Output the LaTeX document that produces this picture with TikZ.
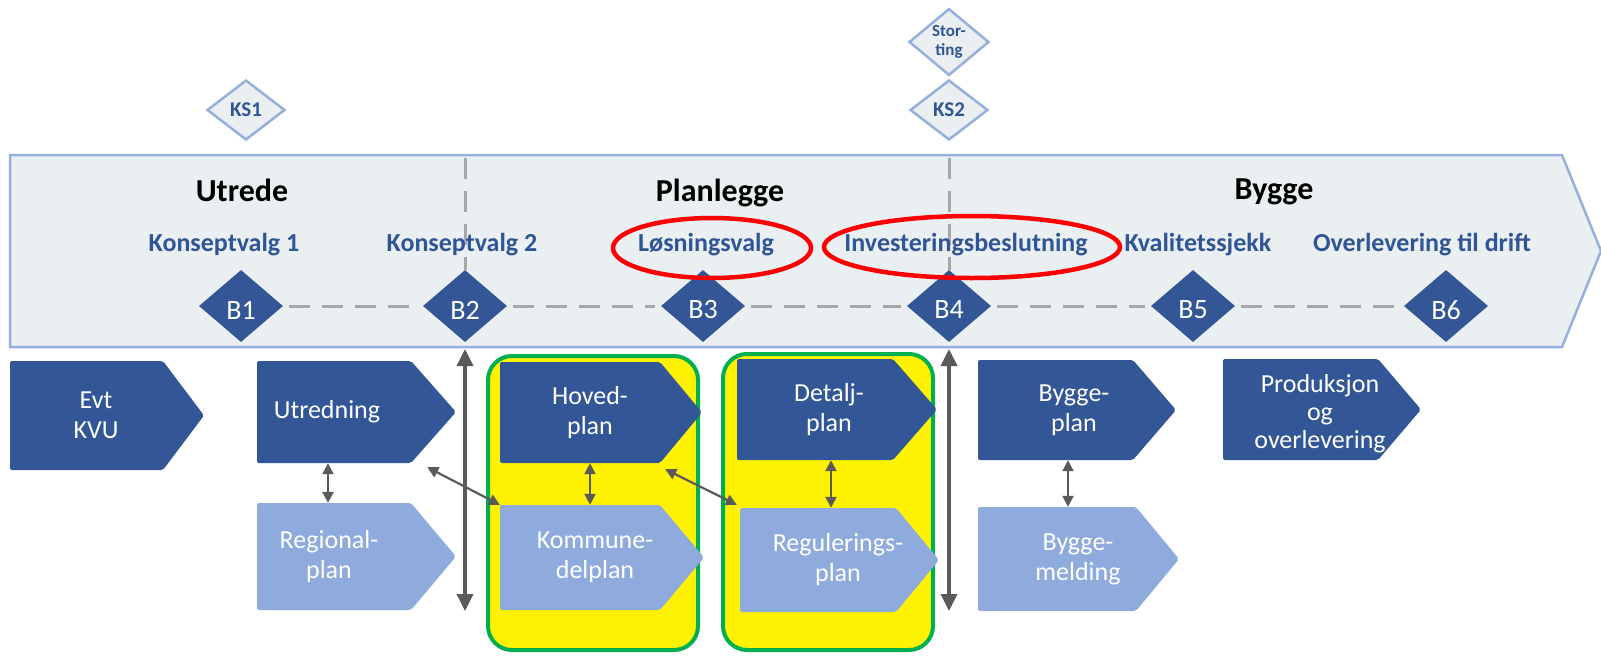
\documentclass[tikz,border=0pt]{standalone}
\usepackage{fontspec}
\setmainfont{Carlito}
\usetikzlibrary{arrows.meta,shapes.geometric,calc}
\definecolor{dblue}{RGB}{50,86,150}
\definecolor{lblue}{RGB}{143,170,220}
\definecolor{bandfill}{RGB}{234,239,241}
\definecolor{bandline}{RGB}{150,176,222}
\definecolor{txtblue}{RGB}{47,85,151}
\definecolor{agray}{RGB}{90,90,90}
\definecolor{dgray}{RGB}{168,168,168}
\definecolor{gbord}{RGB}{0,176,80}
\newcommand{\chev}[9]{%
  \fill[#2, rounded corners=2pt] (#3,#4) -- (#5,#4) -- (#7,{(#4+#6)/2}) -- (#5,#6) -- (#3,#6) -- cycle;
  \node[inner sep=0pt, minimum width={#5-#3}, minimum height={#6-#4}] (#1) at ({(#3+#5)/2},{(#4+#6)/2}) {};
  \node[boxtxt] (#1t) at (#8,{(#4+#6)/2}) {#9};
}
\begin{document}
\begin{tikzpicture}[x=1pt,y=-1pt,
  bd/.style={diamond, fill=dblue, minimum width=84pt, minimum height=72pt, inner sep=0pt},
  bdt/.style={text=white, inner sep=0pt, font=\fontsize{28}{28}\selectfont},
  ksd/.style={diamond, fill=bandfill, draw=bandline, line width=2.5pt, minimum width=78pt, minimum height=60pt, inner sep=0pt, text=txtblue, font=\bfseries\fontsize{21}{21}\selectfont},
  head/.style={font=\bfseries\fontsize{32}{36}\selectfont, text=black, inner sep=0pt},
  lbl/.style={font=\bfseries\fontsize{26}{30}\selectfont, text=txtblue, inner sep=0pt},
  boxtxt/.style={text=white, align=center, font=\fontsize{26}{30}\selectfont, inner sep=0pt},
  dline/.style={draw=dgray, line width=3pt, dash pattern=on 21pt off 12pt},
  redell/.style={ellipse, draw=red, line width=4.5pt, inner sep=0pt},
  gbox/.style={draw=gbord, fill=yellow, line width=4pt, rounded corners=24pt},
  bigarr/.style={draw=agray, line width=3.5pt, {Triangle[width=16pt,length=17pt]}-{Triangle[width=16pt,length=17pt]}},
  smarr/.style={draw=agray, line width=2.2pt, {Triangle[width=11pt,length=11pt]}-{Triangle[width=11pt,length=11pt]}},
]
\useasboundingbox (0,0) rectangle (1601,656);
% band
\filldraw[fill=bandfill, draw=bandline, line width=2.5pt] (10,155) -- (1562,155) -- (1601,251) -- (1562,347) -- (10,347) -- cycle;
% milestone diamonds
\foreach \n/\x in {B1/241,B2/465,B3/703,B4/949,B5/1193,B6/1446}{
  \node[bd] (\n) at (\x,306) {};
  \node[bdt] (\n t) at (\x,310) {\n};
}
\coordinate (d1) at (465,158);
\coordinate (d2) at (949,158);
\draw[dline] (d1) -- (B2.north);
\draw[dline] (d2) -- (B4.north);
\foreach \a/\b in {B1/B2,B2/B3,B3/B4,B4/B5,B5/B6}
  \draw[dline, shorten <=6pt, shorten >=6pt] (\a) -- (\b);
% headings
\node[head] (h1) at (242,190) {Utrede};
\node[head] (h2) at (720,193) {Planlegge};
\node[head] (h3) at (1274,192) {Bygge};
% labels
\node[lbl] (l1) at (224,245) {Konseptvalg 1};
\node[lbl] (l2) at (462,245) {Konseptvalg 2};
\node[lbl] (l3) at (706,245) {Løsningsvalg};
\node[lbl] (l4) at (966,245) {Investeringsbeslutning};
\node[lbl] (l5) at (1198,245) {Kvalitetssjekk};
\node[lbl] (l6) at (1422,245) {Overlevering til drift};
\node[redell, minimum width=198pt, minimum height=60pt] (e1) at (712,248) {};
\node[redell, minimum width=296pt, minimum height=62pt] (e2) at (972,247) {};
% KS diamonds
\node[ksd] (ks1) at (246,110) {KS1};
\node[ksd, minimum width=80pt, minimum height=66pt, font=\bfseries\fontsize{17}{19}\selectfont, align=center] (st) at (949,42) {Stor-\\ting};
\node[ksd] (ks2) at (949,110) {KS2};
% green/yellow groups
\node[gbox, minimum width=210pt, minimum height=294pt] (g1) at (593,503) {};
\node[gbox, minimum width=210pt, minimum height=296pt] (g2) at (828,502) {};
% process boxes
\chev{kvu}{dblue}{10}{361}{163}{470}{204}{96}{Evt\\KVU}
\chev{utr}{dblue}{257}{361}{411}{463}{456}{327}{Utredning}
\chev{reg}{lblue}{257}{503}{411}{610}{456}{329}{Regional-\\plan}
\chev{hov}{dblue}{500}{362}{660}{463}{702}{590}{Hoved-\\plan}
\chev{kom}{lblue}{500}{505}{660}{610}{704}{595}{Kommune-\\delplan}
\chev{det}{dblue}{737}{359}{893}{460}{937}{829}{Detalj-\\plan}
\chev{regu}{lblue}{740}{508}{896}{612}{939}{838}{Regulerings-\\plan}
\chev{byp}{dblue}{978}{360}{1133}{460}{1176}{1074}{Bygge-\\plan}
\chev{bym}{lblue}{978}{507}{1136}{611}{1179}{1078}{Bygge-\\melding}
\fill[dblue, rounded corners=2pt] (1223,359) -- (1378,359) -- (1421,409.5) -- (1378,460) -- (1223,460) -- cycle;
\node[inner sep=0pt, minimum width=155pt, minimum height=101pt] (prod) at (1300.5,409.5) {};
\node[boxtxt, font=\fontsize{26}{28}\selectfont] (prodt) at (1320,414) {Produksjon\\og\\overlevering};
% arrows
\coordinate (a1t) at (465,349); \coordinate (a1b) at (465,611);
\coordinate (a2t) at (949,349); \coordinate (a2b) at (949,611);
\draw[bigarr] (a1t) -- (a1b);
\draw[bigarr] (a2t) -- (a2b);
\path (328,0) coordinate (x1) (590,0) coordinate (x2) (831,0) coordinate (x3) (1068,0) coordinate (x4);
\draw[smarr] (utr.south -| x1) -- (reg.north -| x1);
\draw[smarr] (hov.south -| x2) -- (kom.north -| x2);
\draw[smarr] (det.south -| x3) -- (regu.north -| x3);
\draw[smarr] (byp.south -| x4) -- (bym.north -| x4);
\draw[smarr] ([shift={(16,4)}]utr.south east) -- (kom.north west);
\draw[smarr] ([shift={(5,6)}]hov.south east) -- ([shift={(-3,-3)}]regu.north west);
\end{tikzpicture}
\end{document}
